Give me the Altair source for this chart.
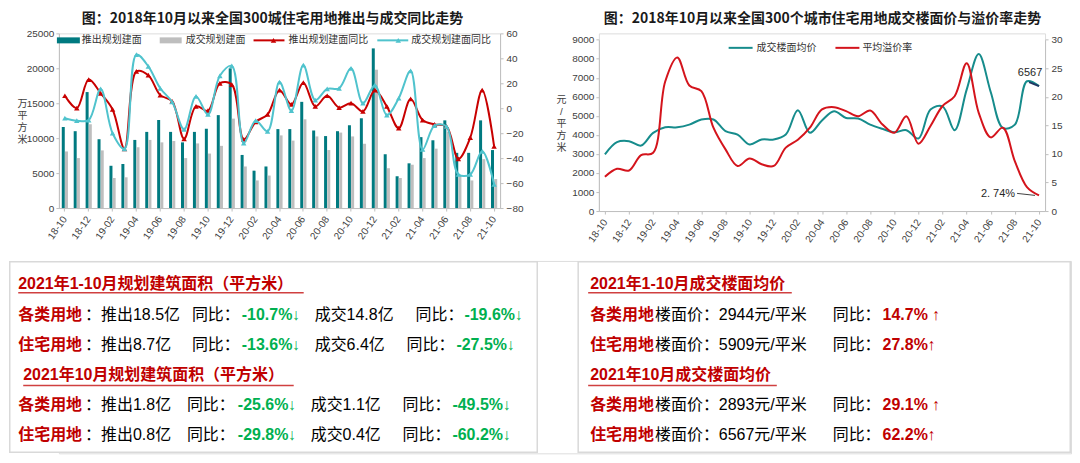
import altair as alt
import pandas as pd

# ---------------- data ----------------
months = ["18-10", "18-11", "18-12",
          "19-01", "19-02", "19-03", "19-04", "19-05", "19-06", "19-07", "19-08", "19-09", "19-10", "19-11", "19-12",
          "20-01", "20-02", "20-03", "20-04", "20-05", "20-06", "20-07", "20-08", "20-09", "20-10", "20-11", "20-12",
          "21-01", "21-02", "21-03", "21-04", "21-05", "21-06", "21-07", "21-08", "21-09", "21-10"]
tick_labels = months[::2]

launch_area = [11600, 11000, 16600, 9850, 6050, 6300, 9750, 10900, 12600, 10900, 9400, 10900,
               11350, 13300, 20000, 7600, 5350, 5950, 11300, 11300, 15200, 11100, 10300, 11000,
               11850, 12850, 22850, 7700, 4550, 6400, 10150, 9700, 12550, 7900, 7900, 12550, 8300]
deal_area = [8100, 7150, 12000, 8250, 4300, 4400, 8700, 9750, 9400, 9600, 7150, 9250,
             7800, 8900, 12800, 5950, 3950, 4650, 10400, 9650, 12700, 10250, 8300, 10800,
             10250, 9200, 19800, 5700, 4300, 6200, 7150, 8500, 10950, 4650, 3950, 7000, 4150]
launch_yoy = [10, 0, 23, 12, -1, -32.5, 29.5, 26.5, 10.5, 5.5, -24.5, 1.5,
              -2, 20, 19, -25, -11, -5, 14.5, 3, 20.5, 1.5, 10, 0.5,
              4, -2.5, 14.5, 1.5, -16, 7.5, -9.5, -13, -14.5, -40.5, -23.5, 14.5, -30.5]
deal_yoy = [-8, -10, -9.5, 15.5, -20, -32.5, 43, 33.5, 16, 5, -17, 9.5,
            -5, 26, 34, -28, -10, -18.5, 21, -2, 34.5, 6.5, 15.5, 16,
            32, 4, 18.5, -5.5, 8, 30, -33, -14, -14.5, -53, -53, -34.5, -61]

price = [2980, 3620, 3670, 3440, 4110, 4400, 4400, 4540, 4810, 4810, 4200, 4020,
         3500, 3760, 3760, 4020, 5300, 4110, 4760, 5240, 4890, 4860, 4540, 4320,
         4140, 4250, 3810, 5330, 5500, 4250, 6380, 8250, 6240, 4370, 4540, 6820, 6567]
premium = [6.0, 7.4, 7.1, 9.8, 10.2, 22.7, 26.9, 22.0, 21.0, 14.6, 10.8, 7.9,
           9.2, 8.2, 7.9, 11.1, 12.5, 14.6, 17.8, 18.2, 17.5, 16.6, 17.6, 15.2,
           13.7, 16.6, 11.8, 14.9, 18.4, 20.1, 25.9, 17.2, 12.9, 14.6, 8.7, 4.2, 2.74]

bar_names = ["推出规划建面", "成交规划建面"]
line_names = ["推出规划建面同比", "成交规划建面同比"]
right_names = ["成交楼面均价", "平均溢价率"]
title_left = "图：2018年10月以来全国300城住宅用地推出与成交同比走势"
title_right = "图：2018年10月以来全国300个城市住宅用地成交楼面价与溢价率走势"
left_unit = ["万", "平", "方", "米"]
right_unit = ["元", "/", "平", "方", "米"]
price_label = "6567"
premium_label = "2. 74%"

# bottom panels: (text, style)  r = red bold, k = black, g = green bold, t = underlined title
panel_left = [
    [("2021年1-10月规划建筑面积（平方米）", "t")],
    [("各类用地", "r"), ("：推出18.5亿", "k"), ("同比：", "k"), ("-10.7%↓", "g"), ("成交14.8亿", "k"), ("同比：", "k"), ("-19.6%↓", "g")],
    [("住宅用地", "r"), ("：推出8.7亿", "k"), ("同比：", "k"), ("-13.6%↓", "g"), ("成交6.4亿", "k"), ("同比：", "k"), ("-27.5%↓", "g")],
    [("2021年10月规划建筑面积（平方米）", "t")],
    [("各类用地", "r"), ("：推出1.8亿", "k"), ("同比：", "k"), ("-25.6%↓", "g"), ("成交1.1亿", "k"), ("同比：", "k"), ("-49.5%↓", "g")],
    [("住宅用地", "r"), ("：推出0.8亿", "k"), ("同比：", "k"), ("-29.8%↓", "g"), ("成交0.4亿", "k"), ("同比：", "k"), ("-60.2%↓", "g")],
]
panel_right = [
    [("2021年1-10月成交楼面均价", "t")],
    [("各类用地", "r"), ("楼面价：2944元/平米", "k"), ("同比：", "k"), ("14.7% ↑", "r")],
    [("住宅用地", "r"), ("楼面价：5909元/平米", "k"), ("同比：", "k"), ("27.8%↑", "r")],
    [("2021年10月成交楼面均价", "t")],
    [("各类用地", "r"), ("楼面价：2893元/平米", "k"), ("同比：", "k"), ("29.1% ↑", "r")],
    [("住宅用地", "r"), ("楼面价：6567元/平米", "k"), ("同比：", "k"), ("62.2%↑", "r")],
]

# ---------------- style / layout ----------------
FONT = "Liberation Sans, Noto Sans CJK SC, sans-serif"
CJK = "Noto Sans CJK SC, sans-serif"
TEAL = "#007A80"
GRAY = "#BEBEBE"
RED = "#C80000"
CYAN = "#50C3CD"
TEAL2 = "#168C8C"
RED2 = "#D4141C"
AX = "#BFBFBF"
LAB = "#404040"

W1, H1 = 442, 175
W2, H2 = 447, 178
one = pd.DataFrame({"a": [0]})


def axis_common(**kw):
    base = dict(labelFont=FONT, labelFontSize=10, labelColor=LAB, domainColor=AX,
                tickColor=AX, tickSize=3, grid=False)
    base.update(kw)
    return alt.Axis(**base)


def xaxis():
    return axis_common(values=tick_labels, labelAngle=-55, labelPadding=6, title=None)


def free_text(x, y, label, size=10, weight="normal", font=CJK, color="#333333", align="left"):
    return alt.Chart(one).mark_text(align=align, baseline="middle", font=font, fontSize=size,
                                    fontWeight=weight, color=color).encode(
        x=alt.value(x), y=alt.value(y), text=alt.value(label))


def legend_rect(x1, x2, y, color):
    return alt.Chart(one).mark_rect(color=color).encode(
        x=alt.value(x1), x2=alt.value(x2), y=alt.value(y - 3), y2=alt.value(y + 3))


def legend_line(x1, x2, y, color, marker_x=None):
    layers = [alt.Chart(one).mark_rule(color=color, strokeWidth=2).encode(
        x=alt.value(x1), x2=alt.value(x2), y=alt.value(y))]
    if marker_x is not None:
        layers.append(alt.Chart(one).mark_point(shape="triangle-up", filled=True, size=30, color=color,
                                                opacity=1).encode(x=alt.value(marker_x), y=alt.value(y)))
    return layers


# ---------------- left chart ----------------
bars_df = pd.DataFrame({"month": months * 2,
                        "kind": [bar_names[0]] * len(months) + [bar_names[1]] * len(months),
                        "area": launch_area + deal_area})
yoy_df = pd.DataFrame({"month": months * 2,
                       "kind": [line_names[0]] * len(months) + [line_names[1]] * len(months),
                       "yoy": launch_yoy + deal_yoy})

XL = alt.X("month:N", sort=months, scale=alt.Scale(domain=months, paddingInner=0, paddingOuter=0), axis=xaxis())
y_area = alt.Y("area:Q", scale=alt.Scale(domain=[0, 25000]),
               axis=axis_common(values=[0, 5000, 10000, 15000, 20000, 25000], format="d",
                                labelPadding=2, title=left_unit, titleAngle=0, titleFont=FONT,
                                titleFontSize=10, titleFontWeight="normal", titleColor=LAB,
                                titleX=-37, titleY=70, titleAlign="center", titleBaseline="middle",
                                titleLineHeight=12))
y_yoy = alt.Y("yoy:Q", scale=alt.Scale(domain=[-80, 60]),
              axis=axis_common(orient="right", values=list(range(-80, 61, 20)), labelPadding=3, title=None))

teal_bars = alt.Chart(bars_df).transform_filter(alt.datum.kind == bar_names[0]).mark_bar(
    size=3, xOffset=-1.6, color=TEAL).encode(x=XL, y=y_area)
gray_bars = alt.Chart(bars_df).transform_filter(alt.datum.kind == bar_names[1]).mark_bar(
    size=3, xOffset=1.6, color=GRAY).encode(x=XL, y=y_area)
bars = alt.layer(teal_bars, gray_bars)


def yoy_layers(name, color):
    base = alt.Chart(yoy_df).transform_filter(alt.datum.kind == name)
    ln = base.mark_line(color=color, strokeWidth=2, interpolate="catmull-rom").encode(x=XL, y=y_yoy)
    pt = base.mark_point(shape="triangle-up", filled=True, size=30, color=color, opacity=1).encode(x=XL, y=y_yoy)
    return [ln, pt]


lines = alt.layer(*yoy_layers(line_names[0], RED), *yoy_layers(line_names[1], CYAN))

LY = 7
TY = -14
left_legend = [legend_rect(-2, 21, LY, TEAL), free_text(23, LY, bar_names[0]),
               legend_rect(101, 123, LY, GRAY), free_text(127, LY, bar_names[1]),
               *legend_line(195, 226, LY, RED, 215), free_text(230, LY, line_names[0]),
               *legend_line(319, 350, LY, CYAN, 340), free_text(353, LY, line_names[1]),
               free_text(214, TY, title_left, size=14, weight="bold", color="#1a1a1a", align="center")]

left = alt.layer(bars, lines, *left_legend).resolve_scale(y="independent").properties(width=W1, height=H1)

# ---------------- right chart ----------------
right_df = pd.DataFrame({"month": months, "price": price, "premium": premium})
last = months[-1]
XR = alt.X("month:N", sort=months, scale=alt.Scale(domain=months, type="point", padding=0.5), axis=xaxis())
y_price = alt.Y("price:Q", scale=alt.Scale(domain=[0, 9000], range=[H2, 6.4]),
                axis=axis_common(values=list(range(0, 9001, 1000)), format="d", labelPadding=2,
                                 title=right_unit, titleAngle=0, titleFont=FONT, titleFontSize=10,
                                 titleFontWeight="normal", titleColor=LAB, titleX=-38, titleY=66,
                                 titleAlign="center", titleBaseline="middle", titleLineHeight=12))
y_prem = alt.Y("premium:Q", scale=alt.Scale(domain=[0, 30], range=[H2, 6.4]),
               axis=axis_common(orient="right", values=list(range(0, 31, 5)), labelPadding=3, title=None))

price_line = alt.Chart(right_df).mark_line(color=TEAL2, strokeWidth=2, interpolate="catmull-rom").encode(
    x=XR, y=y_price)
price_leader = alt.Chart(right_df).transform_filter(alt.datum.month == last).mark_rule(
    color="#1F3864", strokeWidth=2, xOffset=-10, x2Offset=0, yOffset=-4, y2Offset=0).encode(
    x=XR, x2="month:N", y=y_price, y2="price:Q")
price_lab = alt.Chart(right_df).transform_filter(alt.datum.month == last).mark_text(
    font=FONT, fontSize=11, color="#262626", dx=-9, dy=-13).encode(x=XR, y=y_price, text=alt.value(price_label))
prem_line = alt.Chart(right_df).mark_line(color=RED2, strokeWidth=2, interpolate="catmull-rom").encode(
    x=XR, y=y_prem)
prem_lab = alt.Chart(right_df).transform_filter(alt.datum.month == last).mark_text(
    font=FONT, fontSize=11, color="#262626", align="right", dx=-24, dy=-1).encode(
    x=XR, y=y_prem, text=alt.value(premium_label))
prem_leader = alt.Chart(right_df).transform_filter(alt.datum.month == last).mark_rule(
    color="#404040", strokeWidth=1, xOffset=-22, x2Offset=-4, yOffset=-2, y2Offset=0).encode(
    x=XR, x2="month:N", y=y_prem, y2="premium:Q")

RY = 14.5
right_legend = [*legend_line(130, 154, RY, TEAL2), free_text(158, RY, right_names[0]),
                *legend_line(237, 261, RY, RED2), free_text(264, RY, right_names[1]),
                free_text(224, TY, title_right, size=14, weight="bold", color="#1a1a1a", align="center")]

right = alt.layer(alt.layer(price_line, price_leader, price_lab), alt.layer(prem_line, prem_leader, prem_lab),
                  *right_legend).resolve_scale(y="independent").properties(width=W2, height=H2)

# ---------------- bottom text panels ----------------
BX0, BY0 = 57.75, 263.25     # page position of the panel view origin
row_y = [291, 322, 352, 383, 413, 443]
left_x = [[17], [17, 84, 191, 241, 314, 415, 464], [17, 84, 191, 241, 314, 406, 456],
          [22], [17, 84, 186, 237, 310, 402, 452], [17, 84, 186, 237, 310, 402, 452]]
right_x = [[590], [590, 655, 833, 883], [590, 655, 833, 883],
           [590], [590, 655, 833, 883], [590, 655, 833, 883]]
underlines = [(17, 303, 295), (22, 293, 388), (588, 792, 295), (588, 777, 388)]
boxes = [(8.5, 537, 264, 455), (578, 1071, 264, 455)]
colors = {"r": "#C00000", "t": "#C00000", "k": "#000000", "g": "#00B050"}

recs = []
for rows, xs in ((panel_left, left_x), (panel_right, right_x)):
    for r, (row, xr) in enumerate(zip(rows, xs)):
        for (txt, st), px_ in zip(row, xr):
            recs.append({"text": txt, "style": st, "x": px_ - BX0, "y": row_y[r] - BY0, "color": colors[st]})
text_df = pd.DataFrame(recs)
box_df = pd.DataFrame([{"x": a - BX0, "x2": b - BX0, "y": c - BY0, "y2": d - BY0} for a, b, c, d in boxes])
ul_df = pd.DataFrame([{"x": a - BX0, "x2": b - BX0, "y": c - BY0} for a, b, c in underlines])


def px(f):
    return alt.X(f, scale=None, axis=None)


def py(f):
    return alt.Y(f, scale=None, axis=None)


box_layer = alt.Chart(box_df).mark_rect(fill="white", stroke="#D9D9D9", strokeWidth=1.5).encode(
    x=px("x:Q"), x2="x2:Q", y=py("y:Q"), y2="y2:Q")
ul_layer = alt.Chart(ul_df).mark_rule(color="#D04040", strokeWidth=1.5).encode(x=px("x:Q"), x2="x2:Q", y=py("y:Q"))
bold_layer = alt.Chart(text_df).transform_filter(alt.datum.style != "k").mark_text(
    align="left", baseline="alphabetic", font=FONT, fontSize=16, fontWeight="bold").encode(
    x=px("x:Q"), y=py("y:Q"), text="text:N", color=alt.Color("color:N", scale=None))
norm_layer = alt.Chart(text_df).transform_filter(alt.datum.style == "k").mark_text(
    align="left", baseline="alphabetic", font=FONT, fontSize=16).encode(
    x=px("x:Q"), y=py("y:Q"), text="text:N", color=alt.Color("color:N", scale=None))
bottom = alt.layer(box_layer, ul_layer, bold_layer, norm_layer).properties(
    width=1071.75 - BX0, height=456 - BY0)

chart = alt.vconcat(alt.hconcat(left, right, spacing=31), bottom, spacing=15).properties(
    padding={"top": 3, "left": 0, "right": 0, "bottom": 0}, background="white"
).configure_view(stroke=None).configure(font=FONT)

chart.save("out.html", embed_options={"renderer": "svg", "actions": False})
